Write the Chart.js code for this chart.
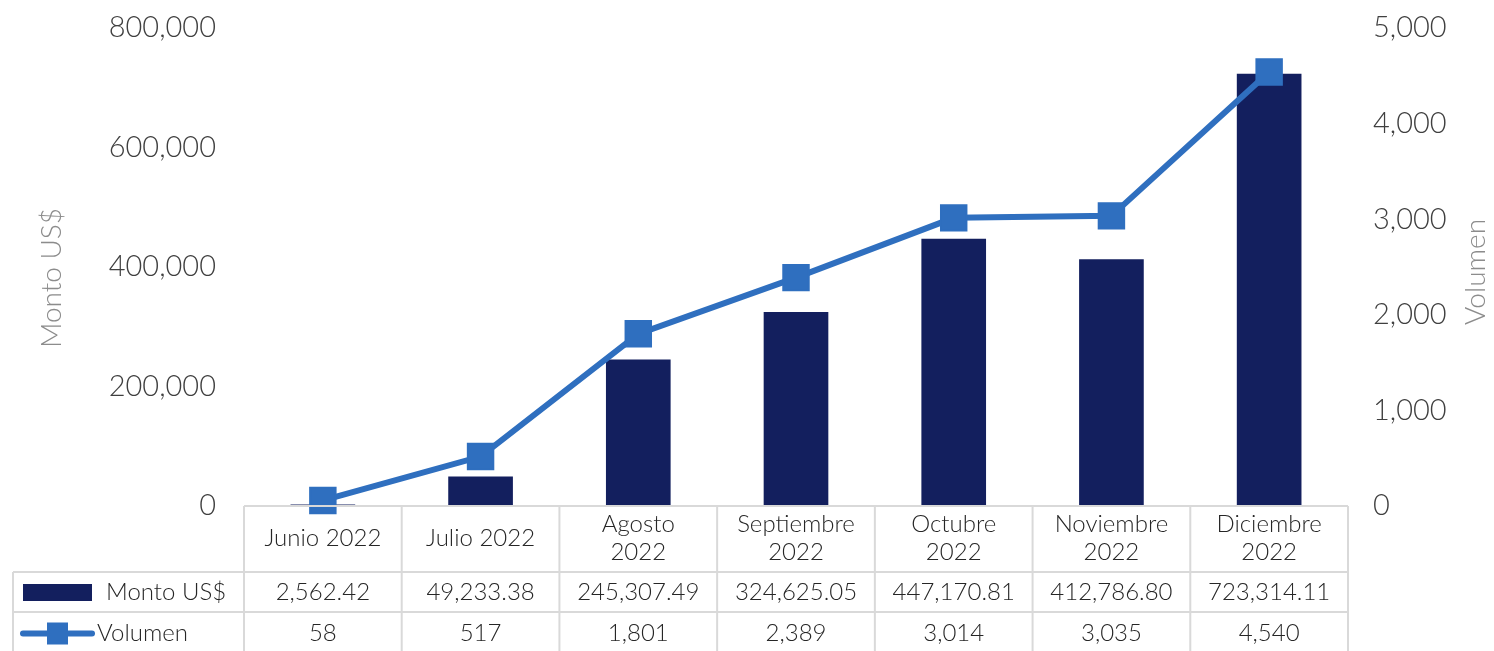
<!DOCTYPE html>
<html>
<head>
<meta charset="utf-8">
<script src="https://cdn.jsdelivr.net/npm/chart.js@4/dist/chart.umd.min.js"></script>
<style>
  html, body { margin: 0; padding: 0; background: #fff; }
  #wrap { position: relative; width: 1494px; height: 651px; }
</style>
</head>
<body>
<div id="wrap"><canvas id="chart" width="1494" height="651"></canvas></div>
<script>
const months = [
  ["Junio 2022"], ["Julio 2022"], ["Agosto", "2022"], ["Septiembre", "2022"],
  ["Octubre", "2022"], ["Noviembre", "2022"], ["Diciembre", "2022"]
];
const monto = [2562.42, 49233.38, 245307.49, 324625.05, 447170.81, 412786.80, 723314.11];
const volumen = [58, 517, 1801, 2389, 3014, 3035, 4540];
const montoLabel = "Monto US$";
const volumenLabel = "Volumen";
const leftTicks = [0, 200000, 400000, 600000, 800000];
const rightTicks = [0, 1000, 2000, 3000, 4000, 5000];

const barColor = "#131f5e";
const lineColor = "#2f6fbf";
const gridColor = "#d9d9d9";
const FONT = "Lato";
const WEIGHT = "300";

function fmt2(v) {
  return v.toLocaleString("en-US", { minimumFractionDigits: 2, maximumFractionDigits: 2 });
}
function fmt0(v) {
  return v.toLocaleString("en-US");
}

// draws the data table under the plot plus both axis titles
const tablePlugin = {
  id: "dataTable",
  afterDraw(chart) {
    const ctx = chart.ctx;
    const area = chart.chartArea;
    const x = chart.scales.x;
    const colW = (area.right - area.left) / months.length;
    const headBottom = area.bottom + 66;
    const row1Bottom = headBottom + 40;
    const row2Bottom = chart.height;
    const tableLeft = 13;

    ctx.save();
    ctx.strokeStyle = gridColor;
    ctx.lineWidth = 2;
    ctx.beginPath();
    ctx.moveTo(area.left, area.bottom);
    ctx.lineTo(area.right, area.bottom);
    for (let i = 0; i <= months.length; i++) {
      const px = area.left + i * colW;
      ctx.moveTo(px, area.bottom);
      ctx.lineTo(px, row2Bottom);
    }
    ctx.moveTo(tableLeft, headBottom);
    ctx.lineTo(area.right, headBottom);
    ctx.moveTo(tableLeft, row1Bottom);
    ctx.lineTo(area.right, row1Bottom);
    ctx.moveTo(tableLeft, headBottom);
    ctx.lineTo(tableLeft, row2Bottom);
    ctx.stroke();

    ctx.fillStyle = "#262626";
    ctx.font = WEIGHT + " 24px " + FONT;
    ctx.textAlign = "center";
    ctx.textBaseline = "middle";
    const r1 = (headBottom + row1Bottom) / 2;
    const r2 = (row1Bottom + row2Bottom) / 2 + 2;
    monto.forEach((v, i) => ctx.fillText(fmt2(v), x.getPixelForValue(i), r1));
    volumen.forEach((v, i) => ctx.fillText(fmt0(v), x.getPixelForValue(i), r2));

    // legend keys
    ctx.fillStyle = barColor;
    ctx.fillRect(23, r1 - 8, 69, 17);
    ctx.strokeStyle = lineColor;
    ctx.lineWidth = 6;
    ctx.lineCap = "round";
    ctx.beginPath();
    ctx.moveTo(23, r2);
    ctx.lineTo(92, r2);
    ctx.stroke();
    ctx.fillStyle = lineColor;
    ctx.fillRect(47, r2 - 11, 21, 22);

    ctx.fillStyle = "#262626";
    ctx.textAlign = "left";
    ctx.fillText(montoLabel, 106, r1);
    ctx.fillText(volumenLabel, 97, r2);

    // axis titles (both read bottom to top)
    ctx.fillStyle = "#8c8c8c";
    ctx.font = WEIGHT + " 28px " + FONT;
    ctx.textAlign = "center";
    ctx.save();
    ctx.translate(52, 278);
    ctx.rotate(-Math.PI / 2);
    ctx.fillText(montoLabel, 0, 0);
    ctx.restore();
    ctx.translate(1476, 272);
    ctx.rotate(-Math.PI / 2);
    ctx.fillText(volumenLabel, 0, 0);
    ctx.restore();
  }
};

function fixY(width) {
  return s => {
    s.width = width;
    s.paddingTop = 0;
    s.paddingBottom = 0;
  };
}

new Chart(document.getElementById("chart"), {
  type: "bar",
  data: {
    labels: months,
    datasets: [
      {
        type: "line",
        label: volumenLabel,
        data: volumen,
        yAxisID: "y1",
        borderColor: lineColor,
        backgroundColor: lineColor,
        borderWidth: 6,
        pointStyle: "rect",
        pointRadius: 18,
        pointBorderWidth: 2,
        pointBorderColor: lineColor,
        pointBackgroundColor: lineColor,
        tension: 0,
        clip: false,
        order: 1
      },
      {
        label: montoLabel,
        data: monto,
        yAxisID: "y",
        backgroundColor: barColor,
        barPercentage: 0.41,
        categoryPercentage: 1,
        order: 2
      }
    ]
  },
  options: {
    responsive: false,
    animation: false,
    layout: { padding: { top: 28, left: 0, right: 0, bottom: 0 } },
    plugins: {
      legend: { display: false },
      tooltip: { enabled: false }
    },
    scales: {
      x: {
        grid: { display: false, drawTicks: false },
        border: { display: false },
        ticks: {
          color: "#262626",
          font: { family: FONT, size: 24, weight: WEIGHT, lineHeight: 1.17 },
          padding: 18,
          crossAlign: "center",
          maxRotation: 0,
          autoSkip: false
        },
        afterFit(s) { s.height = 145; }
      },
      y: {
        position: "left",
        min: 0,
        max: 800000,
        afterBuildTicks(s) { s.ticks = leftTicks.map(v => ({ value: v })); },
        grid: { display: false, drawTicks: false },
        border: { display: false },
        ticks: {
          color: "#404040",
          font: { family: FONT, size: 29, weight: WEIGHT },
          padding: 28,
          callback: v => fmt0(v)
        },
        afterFit: fixY(244)
      },
      y1: {
        position: "right",
        min: 0,
        max: 5000,
        afterBuildTicks(s) { s.ticks = rightTicks.map(v => ({ value: v })); },
        grid: { display: false, drawTicks: false },
        border: { display: false },
        ticks: {
          color: "#404040",
          font: { family: FONT, size: 29, weight: WEIGHT },
          padding: 25,
          callback: v => fmt0(v)
        },
        afterFit: fixY(146)
      }
    }
  },
  plugins: [tablePlugin]
});
</script>
</body>
</html>
